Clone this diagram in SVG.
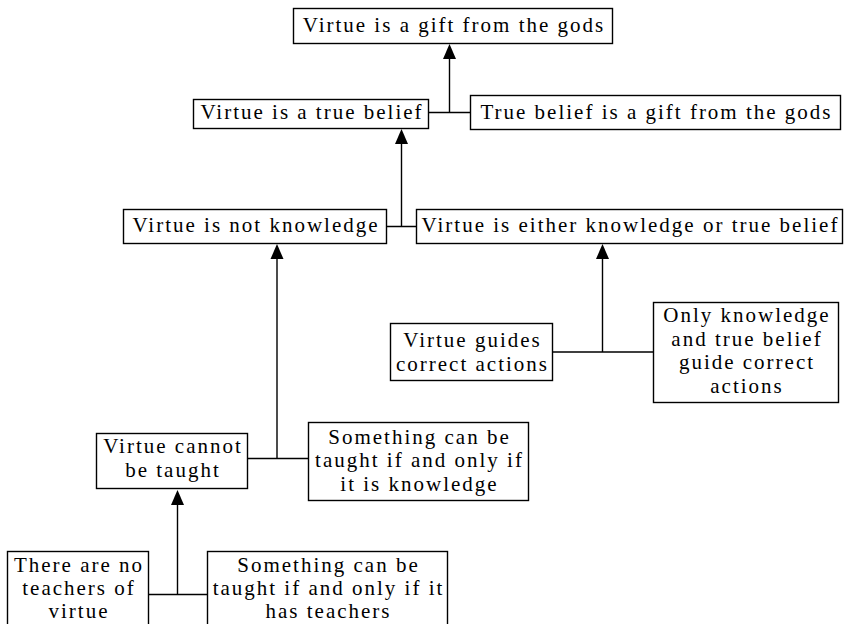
<svg xmlns="http://www.w3.org/2000/svg" width="845" height="624" viewBox="0 0 845 624">
  <style>
    .box { fill: #ffffff; stroke: #000000; stroke-width: 1.4; }
    .lbl { font-family: "Liberation Serif", serif; font-size: 21px; letter-spacing: 2px; fill: #000000; text-anchor: middle; }
    .link { fill: none; stroke: #000000; stroke-width: 1.4; }
    .head { fill: #000000; stroke: none; }
  </style>
  <rect width="845" height="624" fill="#ffffff"/>

  <!-- argument connectors: premise pair joined, one shaft up to the conclusion -->
  <g id="connectors">
    <path class="link" d="M428,112.5 H470.5 M449.5,112.5 V58"/>
    <path class="head" d="M443,59 L449.5,44 L456,59 Z"/>
    <path class="link" d="M387,226.5 H416 M401.5,226.5 V143"/>
    <path class="head" d="M395,144 L401.5,129 L408,144 Z"/>
    <path class="link" d="M553,352 H653 M602.5,352 V258"/>
    <path class="head" d="M596,259 L602.5,244 L609,259 Z"/>
    <path class="link" d="M248,458.5 H308 M277,458.5 V258"/>
    <path class="head" d="M270.5,259 L277,244 L283.5,259 Z"/>
    <path class="link" d="M149,594.5 H207 M177.5,594.5 V504"/>
    <path class="head" d="M171,505 L177.5,490 L184,505 Z"/>
  </g>

  <g id="gift-gods">
    <rect class="box" x="293.5" y="8.5" width="319" height="35"/>
    <text class="lbl" x="454" y="32">Virtue is a gift from the gods</text>
  </g>

  <g id="true-belief">
    <rect class="box" x="193.5" y="99.5" width="235" height="29"/>
    <text class="lbl" x="312" y="119">Virtue is a true belief</text>
  </g>

  <g id="belief-gift">
    <rect class="box" x="470.5" y="95.5" width="370" height="34"/>
    <text class="lbl" x="656.5" y="119">True belief is a gift from the gods</text>
  </g>

  <g id="not-knowledge">
    <rect class="box" x="123.5" y="209.5" width="263" height="34"/>
    <text class="lbl" x="256" y="232">Virtue is not knowledge</text>
  </g>

  <g id="knowledge-or-belief">
    <rect class="box" x="416.5" y="209.5" width="426" height="34"/>
    <text class="lbl" x="630.5" y="232">Virtue is either knowledge or true belief</text>
  </g>

  <g id="guides-actions">
    <rect class="box" x="390.5" y="323.5" width="162" height="57"/>
    <text class="lbl" x="472.5" y="347">Virtue guides</text>
    <text class="lbl" x="472.5" y="371">correct actions</text>
  </g>

  <g id="only-knowledge-belief">
    <rect class="box" x="653.5" y="302.5" width="185" height="100"/>
    <text class="lbl" x="747" y="322">Only knowledge</text>
    <text class="lbl" x="747" y="345.5">and true belief</text>
    <text class="lbl" x="747" y="369">guide correct</text>
    <text class="lbl" x="747" y="392.5">actions</text>
  </g>

  <g id="cannot-be-taught">
    <rect class="box" x="96.5" y="433.5" width="151" height="55"/>
    <text class="lbl" x="173" y="453">Virtue cannot</text>
    <text class="lbl" x="173" y="477">be taught</text>
  </g>

  <g id="taught-iff-knowledge">
    <rect class="box" x="308.5" y="422.5" width="220" height="78"/>
    <text class="lbl" x="419.5" y="443.5">Something can be</text>
    <text class="lbl" x="419.5" y="467">taught if and only if</text>
    <text class="lbl" x="419.5" y="490.5">it is knowledge</text>
  </g>

  <g id="no-teachers">
    <rect class="box" x="7.5" y="551.5" width="141" height="80"/>
    <text class="lbl" x="79" y="572">There are no</text>
    <text class="lbl" x="79" y="595">teachers of</text>
    <text class="lbl" x="79" y="618">virtue</text>
  </g>

  <g id="taught-iff-teachers">
    <rect class="box" x="207.5" y="551.5" width="240" height="80"/>
    <text class="lbl" x="328.5" y="572">Something can be</text>
    <text class="lbl" x="328.5" y="595">taught if and only if it</text>
    <text class="lbl" x="328.5" y="618">has teachers</text>
  </g>
</svg>
